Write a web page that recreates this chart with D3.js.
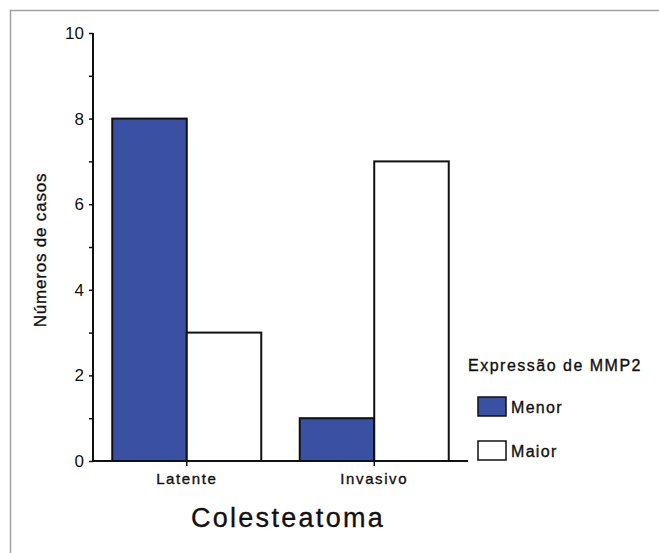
<!DOCTYPE html>
<html><head><meta charset="utf-8">
<script src="https://cdn.jsdelivr.net/npm/d3@7"></script>
<style>body{margin:0;background:#fff}svg{display:block}text{font-family:Arial,"Liberation Sans",sans-serif;fill:#111}.hv{stroke:#111;stroke-width:0.35px}</style>
</head><body>
<svg id="c" width="659" height="553"></svg>
<script>
const categories = ["Latente", "Invasivo"];
const seriesNames = ["Menor", "Maior"];
const menorValues = [8, 1];
const maiorValues = [3, 7];
const yTicks = [0, 2, 4, 6, 8, 10];
const yMinorTicks = [1, 3, 5, 7, 9];
const colors = ["#3a51a3", "#ffffff"];

const svg = d3.select("#c");
// outer frame
svg.append("path").attr("d","M10.5,553 V10.5 H659").attr("fill","none").attr("stroke","#a0a0a0").attr("stroke-width",1.5);

const y = d3.scaleLinear().domain([0,10]).range([461,33]);
const x0 = d3.scaleBand().domain(categories).range([93,468]).paddingInner(0.2053).paddingOuter(0.1027);
const x1 = d3.scaleBand().domain(seriesNames).range([0,x0.bandwidth()]);
const color = d3.scaleOrdinal().domain(seriesNames).range(colors);

const data = categories.map((c,i)=>({cat:c, vals:[{s:"Menor",v:menorValues[i]},{s:"Maior",v:maiorValues[i]}]}));

// bars
const g = svg.append("g");
g.selectAll("g.grp").data(data).join("g").attr("class","grp")
 .attr("transform",d=>`translate(${x0(d.cat)},0)`)
 .selectAll("rect").data(d=>d.vals).join("rect")
 .attr("x",d=>x1(d.s)).attr("width",x1.bandwidth())
 .attr("y",d=>y(d.v)).attr("height",d=>y(0)-y(d.v))
 .attr("fill",d=>color(d.s)).attr("stroke","#111").attr("stroke-width",2);

// y axis
const ya = svg.append("g").attr("transform","translate(93,0)")
 .call(d3.axisLeft(y).tickValues(yTicks).tickSize(4).tickPadding(5).tickFormat(d3.format("d")));
ya.select(".domain").attr("stroke","#111").attr("stroke-width",2).attr("d",`M0,${y(10)}V${y(0)}`);
ya.selectAll(".tick line").attr("stroke","#111").attr("stroke-width",1.5);
ya.selectAll(".tick text").attr("font-size",17).attr("fill","#111").attr("font-family","Arial, 'Liberation Sans', sans-serif");
const yminor = svg.append("g").attr("transform","translate(93,0)")
 .call(d3.axisLeft(y).tickValues(yMinorTicks).tickSize(4).tickFormat(""));
yminor.select(".domain").remove();
yminor.selectAll(".tick line").attr("stroke","#111").attr("stroke-width",1.5);

// x axis
const xa = svg.append("g").attr("transform",`translate(0,${y(0)})`)
 .call(d3.axisBottom(x0).tickSize(5).tickPadding(5));
xa.select(".domain").attr("stroke","#111").attr("stroke-width",2).attr("d","M92,0H468");
xa.selectAll(".tick line").attr("stroke","#111").attr("stroke-width",1.5);
xa.selectAll(".tick text").attr("font-size",15).attr("fill","#111").attr("letter-spacing","1.6px")
 .attr("font-family","Arial, 'Liberation Sans', sans-serif").attr("dy","0.85em").attr("class","hv");

// axis titles
svg.append("text").attr("transform","translate(46,250) rotate(-90)").attr("text-anchor","middle")
 .attr("font-size",17).attr("letter-spacing","0.8px").attr("class","hv").text("Números de casos");
svg.append("text").attr("x",288).attr("y",527).attr("text-anchor","middle")
 .attr("font-size",27).attr("letter-spacing","2.3px").attr("class","hv").text("Colesteatoma");

// legend
svg.append("text").attr("x",468).attr("y",371).attr("font-size",16).attr("letter-spacing","1.5px").attr("class","hv").text("Expressão de MMP2");
const leg = svg.append("g").selectAll("g").data(seriesNames).join("g")
 .attr("transform",(d,i)=>`translate(478,${397+i*44})`);
leg.append("rect").attr("width",28).attr("height",19).attr("fill",d=>color(d)).attr("stroke","#111").attr("stroke-width",1.5);
leg.append("text").attr("x",33).attr("y",15.5).attr("font-size",16).attr("letter-spacing","1.3px").attr("class","hv").text(d=>d);
</script>
</body></html>
